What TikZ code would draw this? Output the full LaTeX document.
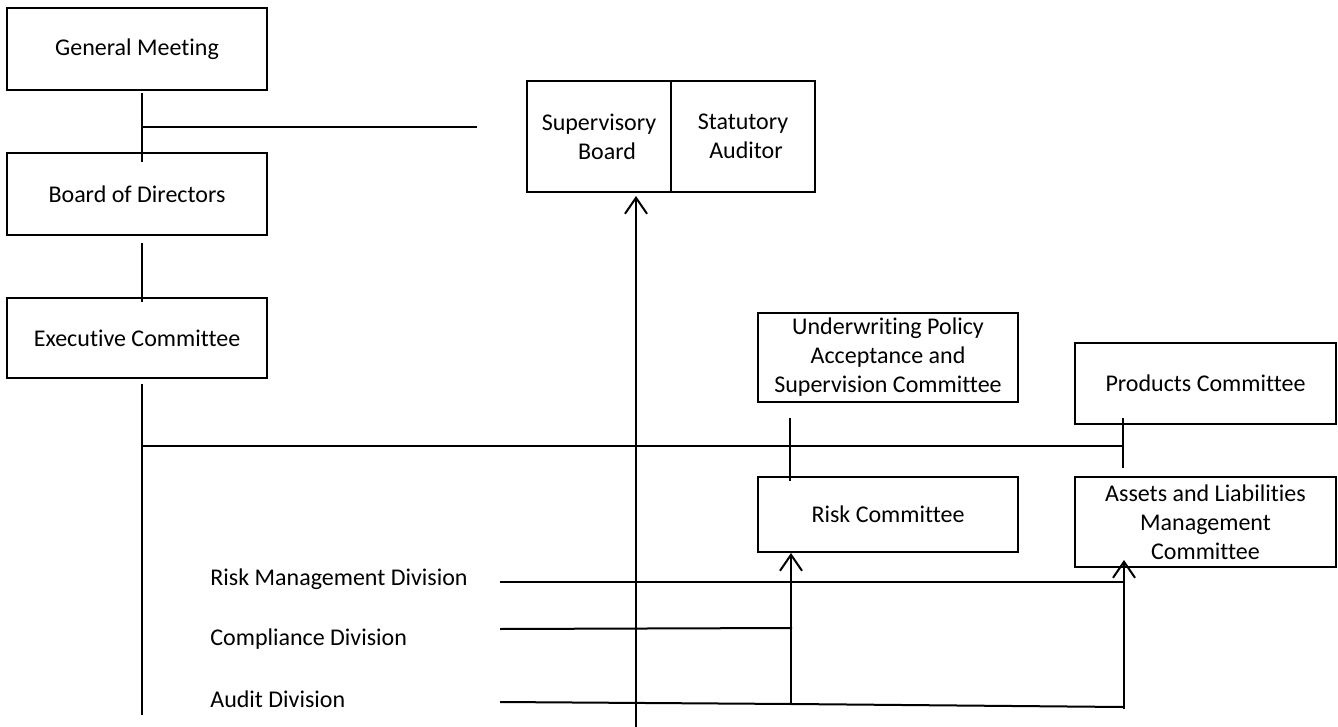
\documentclass[tikz,border=0pt]{standalone}
\usepackage{fontspec}
\setmainfont{Carlito}[Ligatures={NoCommon}]
\usetikzlibrary{arrows.meta,calc}
\tikzset{
  box/.style={draw, line width=1pt, rectangle, align=center, inner sep=0pt,
    font=\fontsize{12}{14.5}\selectfont},
  lbl/.style={anchor=base west, inner sep=0pt, font=\fontsize{12}{14.5}\selectfont},
  conn/.style={line width=1pt},
  arr/.style={line width=1pt, -{Straight Barb[length=8pt,width=11pt,line width=1pt]}}
}
\begin{document}
\begin{tikzpicture}[x=0.5pt,y=-0.5pt]
\useasboundingbox (0,0) rectangle (1338,727);
% boxes
\node[box, minimum width=130pt, minimum height=41pt] (gm) at (137,49) {General Meeting};
\node[box, minimum width=130pt, minimum height=41pt] (bod) at (137,194) {Board of Directors};
\node[box, minimum width=130pt, minimum height=40pt] (exec) at (137,338) {Executive Committee};
\node[box, minimum width=72pt, minimum height=55.5pt] (sup) at (599,136.5) {Supervisory\\\hspace*{8pt}Board};
\node[box, minimum width=72pt, minimum height=55.5pt] (stat) at (743,136.5) {Statutory\\\hspace*{3pt}Auditor};
\node[box, minimum width=130pt, minimum height=44.5pt] (uw) at (888,357.5) {Underwriting Policy\\Acceptance and\\Supervision Committee};
\node[box, minimum width=130.5pt, minimum height=40.5pt] (prod) at (1205.5,383.5) {Products Committee};
\node[box, minimum width=130pt, minimum height=37.5pt] (risk) at (888,514.5) {Risk Committee};
\node[box, minimum width=130.5pt, minimum height=45pt] (alm) at (1205.5,522) {Assets and Liabilities\\Management\\Committee};
% division labels
\node[lbl] (rmd) at (210,585) {Risk Management Division};
\node[lbl] (cd) at (210,645) {Compliance Division};
\node[lbl] (ad) at (210,707) {Audit Division};
% junction coordinates
\coordinate (gmj) at (142,127);
\coordinate (supend) at (477,127);
\coordinate (execend) at (142,715);
\coordinate (execj) at (142,446);
\coordinate (prodj) at (1123,446);
\coordinate (rmdE) at (500,582);
\coordinate (rmdend) at (1123,582);
\coordinate (cdE) at (500,629);
\coordinate (adE) at (500,702);
\coordinate (riskj) at (792,628);
\coordinate (adj) at (792,704);
\coordinate (adend) at (1123,707);
\coordinate (supbase) at (636,727);
% connectors
\draw[conn] ($(gm.south)+(5,2)$) -- ($(bod.north)+(5,10)$);
\draw[conn] (gmj) -- (supend);
\draw[conn] ($(bod.south)+(5,7)$) -- ($(exec.north)+(5,5)$);
\draw[conn] ($(exec.south)+(5,5)$) -- (execend);
\draw[conn] (execj) -- (prodj);
\draw[conn] ($(uw.south)+(-98,15)$) -- ($(risk.north)+(-98,5)$);
\draw[conn] ($(prod.south)+(-82.5,-7)$) -- ($(alm.north)+(-82.5,-8)$);
\draw[conn] (rmdE) -- (rmdend);
\draw[conn] (cdE) -- (riskj);
\draw[conn] (adE) -- (adj) -- (adend);
% arrows
\draw[arr] ($(risk.south)+(-97,152)$) -- ($(risk.south)+(-97,0)$);
\draw[arr] ($(alm.south)+(-81.5,141)$) -- ($(alm.south)+(-81.5,-8)$);
\draw[arr] (supbase) -- ($(sup.south)+(37,3)$);
\end{tikzpicture}
\end{document}
